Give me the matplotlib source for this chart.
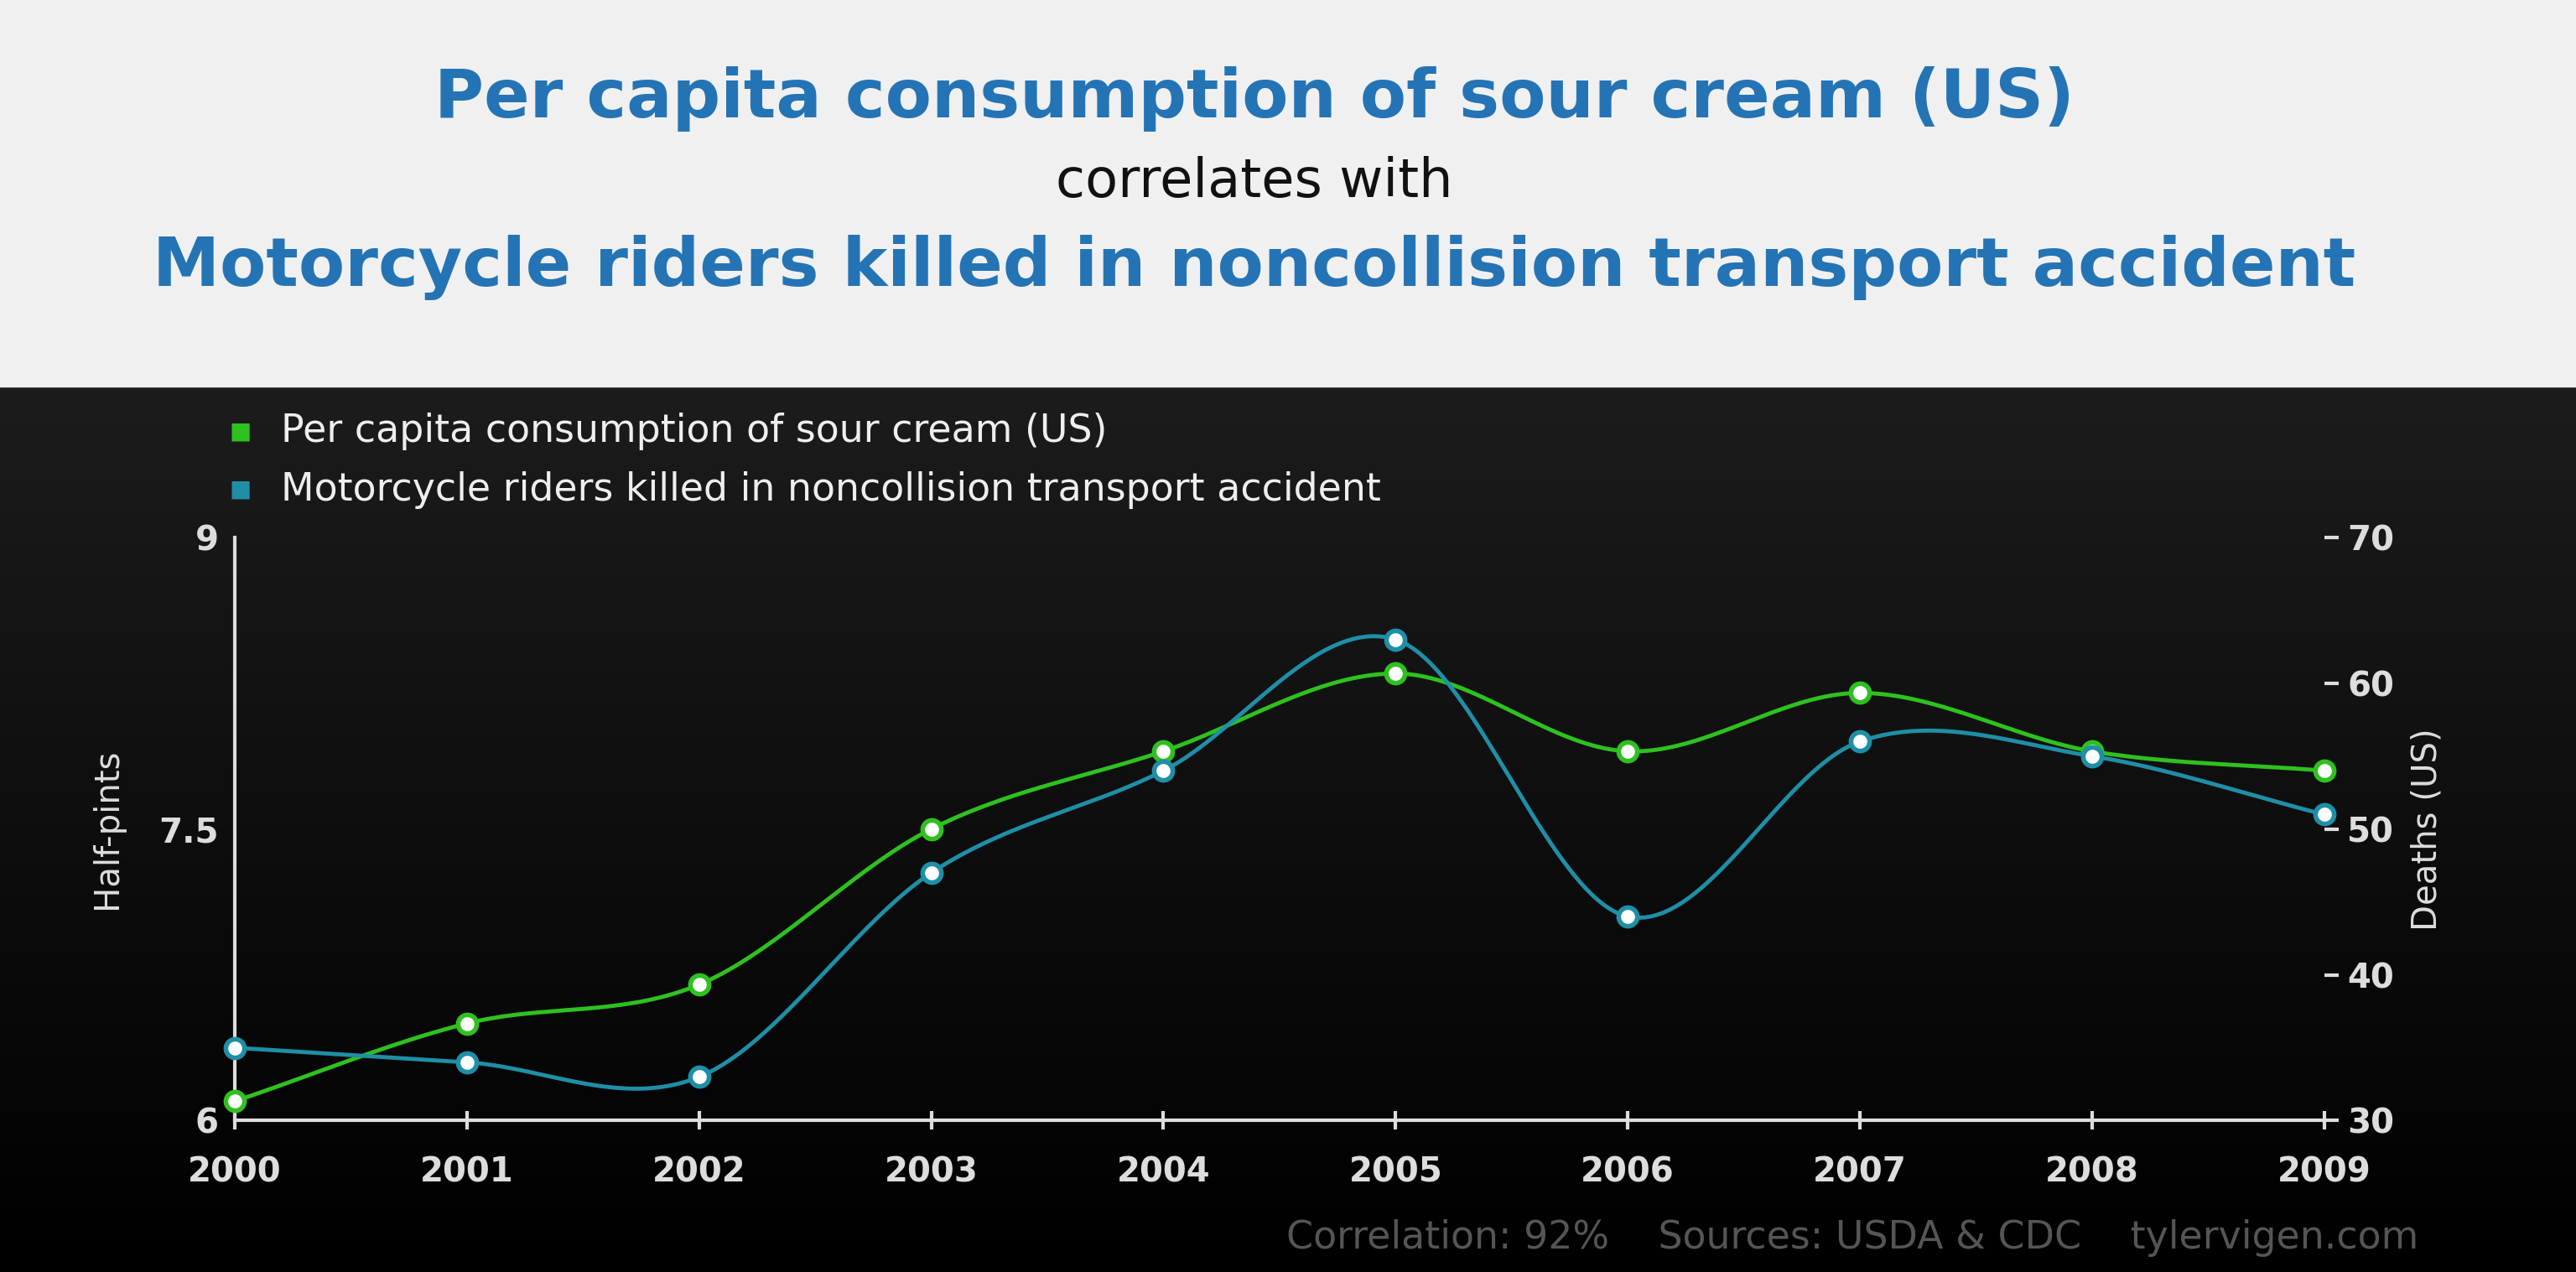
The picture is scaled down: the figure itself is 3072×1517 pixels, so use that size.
import numpy as np
import matplotlib
matplotlib.use("Agg")
import matplotlib.pyplot as plt

# Data
years = [2000, 2001, 2002, 2003, 2004, 2005, 2006, 2007, 2008, 2009]
sour_cream = [6.1, 6.5, 6.7, 7.5, 7.9, 8.3, 7.9, 8.2, 7.9, 7.8]
moto_deaths = [35, 34, 33, 47, 54, 63, 44, 56, 55, 51]

title_top = "Per capita consumption of sour cream (US)"
title_mid = "correlates with"
title_bot = "Motorcycle riders killed in noncollision transport accident"
footer = "Correlation: 92%    Sources: USDA & CDC    tylervigen.com"

GREEN = "#2ec11f"
BLUE = "#1e8fa6"
TITLE_BLUE = "#2474b5"


def smooth(x, y, n=40):
    """Catmull-Rom curve through the data points (for drawing only)."""
    x = np.asarray(x, float)
    y = np.asarray(y, float)
    px = np.concatenate([[2 * x[0] - x[1]], x, [2 * x[-1] - x[-2]]])
    py = np.concatenate([[2 * y[0] - y[1]], y, [2 * y[-1] - y[-2]]])
    xs, ys = [], []
    t = np.linspace(0, 1, n)
    for i in range(1, len(px) - 2):
        for p, out in ((px, xs), (py, ys)):
            p0, p1, p2, p3 = p[i - 1], p[i], p[i + 1], p[i + 2]
            out.append(0.5 * (2 * p1 + (-p0 + p2) * t
                              + (2 * p0 - 5 * p1 + 4 * p2 - p3) * t ** 2
                              + (-p0 + 3 * p1 - 3 * p2 + p3) * t ** 3))
    return np.concatenate(xs), np.concatenate(ys)


fig = plt.figure(figsize=(30.72, 15.17), dpi=100)

# background: light banner on top, dark gradient below
bg = fig.add_axes([0, 0, 1, 1])
bg.set_xlim(0, 1)
bg.set_ylim(0, 1)
bg.axis("off")
grad = np.linspace(0, 1, 256).reshape(-1, 1)
bg.imshow(grad, extent=[0, 1, 0, 0.696], cmap=matplotlib.colors.LinearSegmentedColormap.from_list(
    "g", ["#000000", "#1c1c1c"]), aspect="auto", origin="lower")
bg.add_patch(plt.Rectangle((0, 0.696), 1, 0.304, color="#f0f0f0"))

fig.text(0.487, 0.922, title_top, ha="center", va="center", fontsize=58,
         fontweight="bold", color=TITLE_BLUE)
fig.text(0.487, 0.857, title_mid, ha="center", va="center", fontsize=46, color="#111111")
fig.text(0.487, 0.790, title_bot, ha="center", va="center", fontsize=58,
         fontweight="bold", color=TITLE_BLUE)

ax = fig.add_axes([0.0912, 0.119, 0.811, 0.4585])
ax.patch.set_alpha(0)
ax2 = ax.twinx()

xs, ys = smooth(years, sour_cream)
ax.plot(xs, ys, color=GREEN, lw=3.5, zorder=3, clip_on=False)
ax.plot(years, sour_cream, "o", ms=16, mfc="white", mec=GREEN, mew=4, zorder=4, clip_on=False)
xs, ys = smooth(years, moto_deaths)
ax2.plot(xs, ys, color=BLUE, lw=3.5, zorder=3, clip_on=False)
ax2.plot(years, moto_deaths, "o", ms=16, mfc="white", mec=BLUE, mew=4, zorder=4, clip_on=False)

ax.set_xlim(2000, 2009)
ax.set_ylim(6, 9)
ax2.set_ylim(30, 70)
ax.set_xticks(years)
ax.set_yticks([6, 7.5, 9])
ax.set_yticklabels(["6", "7.5", "9"])
ax2.set_yticks([30, 40, 50, 60, 70])

for a in (ax, ax2):
    for s in a.spines.values():
        s.set_visible(False)
    a.tick_params(colors="#dddddd", labelsize=29, width=3, length=12)
    for lbl in a.get_xticklabels() + a.get_yticklabels():
        lbl.set_fontweight("bold")
ax.spines["left"].set_visible(True)
ax.spines["bottom"].set_visible(True)
ax.spines["left"].set_color("#dddddd")
ax.spines["bottom"].set_color("#dddddd")
ax.spines["left"].set_linewidth(3)
ax.spines["bottom"].set_linewidth(3)
ax.tick_params(axis="y", length=0, pad=14)
ax.tick_params(axis="x", direction="inout", length=16, pad=22)
ax2.tick_params(axis="y", direction="out", pad=8)
ax.set_ylabel("Half-pints", fontsize=29, color="#dddddd", labelpad=30)
ax2.set_ylabel("Deaths (US)", fontsize=29, color="#dddddd", labelpad=14)

# legend
fig.text(0.089, 0.661, "\u25a0", color=GREEN, fontsize=20, va="center")
fig.text(0.109, 0.661, title_top, color="#eeeeee", fontsize=33, va="center")
fig.text(0.089, 0.615, "\u25a0", color=BLUE, fontsize=20, va="center")
fig.text(0.109, 0.615, title_bot, color="#eeeeee", fontsize=33, va="center")

fig.text(0.939, 0.027, footer, ha="right", va="center", fontsize=33, color="#555555")

fig.savefig("out.png", dpi=100)
